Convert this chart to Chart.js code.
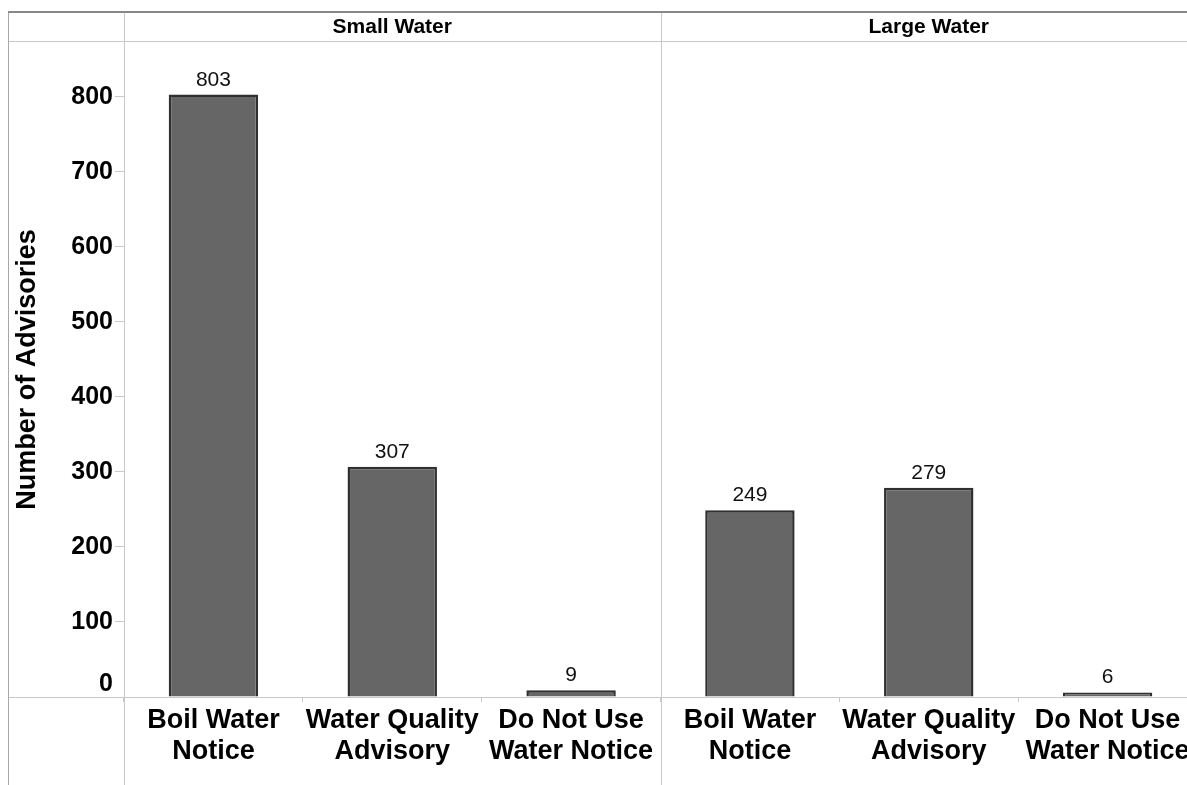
<!DOCTYPE html>
<html>
<head>
<meta charset="utf-8">
<script src="https://cdn.jsdelivr.net/npm/chart.js@4.4.1/dist/chart.umd.min.js"></script>
<style>
  html, body { margin: 0; padding: 0; background: #fff; overflow: hidden; }
  canvas { display: block; }
</style>
</head>
<body>
<canvas id="chart" width="1200" height="785"></canvas>
<script>
// Facets and categories
const panels = ['Small Water', 'Large Water'];
const categories = [['Boil Water', 'Notice'], ['Water Quality', 'Advisory'], ['Do Not Use', 'Water Notice']];
const smallWater = [803, 307, 9];
const largeWater = [249, 279, 6];
const yTicks = [0, 100, 200, 300, 400, 500, 600, 700, 800];

const FONT = "'Liberation Sans', Arial, sans-serif";
const LINE = '#c8c8c8';

const labels = categories.concat(categories);
const values = smallWater.concat(largeWater);

// Draws the Tableau-like frame, headers, y labels and value labels
const framePlugin = {
    id: 'frame',
    afterDraw(chart) {
        const ctx = chart.ctx;
        const area = chart.chartArea;
        const x = chart.scales.x;
        const y = chart.scales.y;
        const W = chart.width, H = chart.height;
        const per = categories.length;
        const split = (x.getPixelForValue(per - 1) + x.getPixelForValue(per)) / 2;

        ctx.save();
        // lines
        ctx.strokeStyle = LINE;
        ctx.lineWidth = 1;
        const line = (x1, y1, x2, y2) => {
            ctx.beginPath();
            ctx.moveTo(x1, y1);
            ctx.lineTo(x2, y2);
            ctx.stroke();
        };
        line(Math.round(area.left) + 0.5, 12, Math.round(area.left) + 0.5, H);
        line(Math.round(split) + 0.5, 12, Math.round(split) + 0.5, H);
        line(8, 41.5, W, 41.5);
        line(8, Math.round(area.bottom) + 0.5, W, Math.round(area.bottom) + 0.5);
        ctx.strokeStyle = '#a8a8a8';
        line(8.5, 12, 8.5, H);
        ctx.strokeStyle = '#888';
        ctx.lineWidth = 2;
        line(8, 12, W, 12);

        // panel headers
        ctx.fillStyle = '#000';
        ctx.font = 'bold 21px ' + FONT;
        ctx.textAlign = 'center';
        ctx.textBaseline = 'middle';
        const bounds = [area.left, split, area.right];
        panels.forEach((p, i) => {
            ctx.fillText(p, (bounds[i] + bounds[i + 1]) / 2, 27);
        });

        // y tick labels
        ctx.font = 'bold 25px ' + FONT;
        ctx.textAlign = 'right';
        yTicks.forEach(v => {
            const py = Math.min(y.getPixelForValue(v), area.bottom - 13);
            ctx.fillText(String(v), area.left - 11, py);
        });

        // value labels above bars
        ctx.font = '21px ' + FONT;
        ctx.fillStyle = '#111';
        ctx.textAlign = 'center';
        ctx.textBaseline = 'alphabetic';
        chart.getDatasetMeta(0).data.forEach((bar, i) => {
            ctx.fillText(String(values[i]), bar.x, bar.y - 9);
        });
        ctx.restore();
    }
};

new Chart(document.getElementById('chart'), {
    type: 'bar',
    data: {
        labels: labels,
        datasets: [{
            data: values,
            backgroundColor: '#666666',
            borderColor: '#303030',
            borderWidth: 2.5,
            barPercentage: 0.5,
            categoryPercentage: 1
        }]
    },
    options: {
        responsive: false,
        animation: false,
        layout: { padding: { top: 42, right: 3, left: 0, bottom: 0 } },
        plugins: {
            legend: { display: false },
            tooltip: { enabled: false }
        },
        scales: {
            x: {
                afterFit: s => { s.height = 88; },
                grid: { drawOnChartArea: false, tickLength: 5, color: LINE, offset: true },
                border: { display: false },
                ticks: {
                    color: '#000',
                    font: { family: FONT, size: 27, weight: 'bold', lineHeight: 1.15 },
                    padding: 3,
                    maxRotation: 0,
                    autoSkip: false
                }
            },
            y: {
                min: 0,
                max: 873,
                afterFit: s => { s.width = 124; },
                afterBuildTicks: s => { s.ticks = yTicks.map(v => ({ value: v })); },
                grid: { drawOnChartArea: false, tickLength: 9, color: LINE },
                border: { display: false },
                ticks: { display: false },
                title: {
                    display: true,
                    text: 'Number of Advisories',
                    color: '#000',
                    font: { family: FONT, size: 27, weight: 'bold' },
                    padding: { top: 11, bottom: 0 }
                }
            }
        }
    },
    plugins: [framePlugin]
});
</script>
</body>
</html>
